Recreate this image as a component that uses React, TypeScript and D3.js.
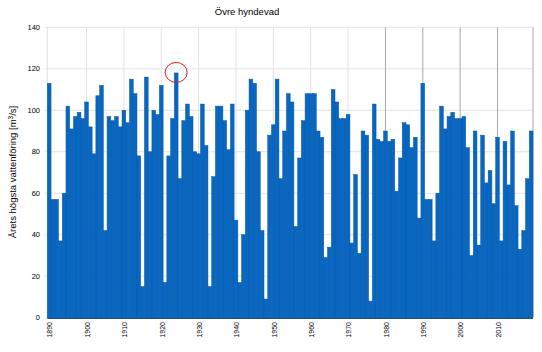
import React from "react";
import * as d3 from "d3";

// chart data: annual maximum flow, Övre hyndevad
const firstYear = 1890;
const flowValues = [
  113, 57, 57, 37, 60, 102, 91, 97, 99, 96,
  104, 92, 79, 107, 112, 42, 97, 95, 97, 92,
  100, 94, 115, 108, 78, 15, 116, 80, 100, 98,
  112, 17, 78, 96, 118, 67, 95, 103, 97, 80,
  79, 103, 83, 15, 68, 102, 102, 95, 81, 103,
  47, 17, 40, 100, 115, 113, 80, 42, 9, 88,
  93, 115, 67, 90, 108, 104, 44, 77, 95, 108,
  108, 108, 90, 87, 29, 34, 110, 104, 96, 96,
  98, 36, 69, 31, 90, 88, 8, 103, 86, 85,
  90, 85, 86, 61, 77, 94, 93, 82, 87, 48,
  113, 57, 57, 37, 60, 102, 91, 97, 99, 96,
  96, 97, 82, 30, 90, 35, 88, 65, 71, 55,
  87, 37, 85, 64, 90, 54, 33, 42, 67, 90,
];
const years = flowValues.map((_, i) => firstYear + i);
const yTicks = [0, 20, 40, 60, 80, 100, 120, 140];
const decadeLabels = [1890, 1900, 1910, 1920, 1930, 1940, 1950, 1960, 1970, 1980, 1990, 2000, 2010];
const highlightYear = 1924;

const W = 542;
const H = 352;
const LEFT = 47.3;
const RIGHT = 533;
const TOP = 27.3;
const BOTTOM = 317.7;
const FONT = "'Liberation Sans', Arial, sans-serif";

export default function App() {
  const x = d3.scaleBand<number>().domain(years).range([LEFT, RIGHT]).padding(0);
  const y = d3.scaleLinear().domain([0, 140]).range([BOTTOM, TOP]);
  const bw = x.bandwidth();

  const hx = (x(highlightYear) ?? 0) + bw / 2;
  const hVal = flowValues[highlightYear - firstYear];

  return (
    <svg
      width={W}
      height={H}
      style={{ position: "absolute", left: 0, top: 0, background: "#fff" }}
      fontFamily={FONT}
    >
      {/* title */}
      <text x={247} y={15} fontSize={9.5} textAnchor="middle" fill="#000">
        Övre hyndevad
      </text>

      {/* horizontal grid */}
      {yTicks.map((t) => (
        <g key={"h" + t}>
          <line x1={LEFT - 2} x2={RIGHT} y1={y(t)} y2={y(t)} stroke="#e2e2e2" strokeWidth={1} />
          <text x={40} y={y(t) + 2.5} fontSize={7.5} textAnchor="end" fill="#000">
            {t}
          </text>
        </g>
      ))}

      {/* vertical grid */}
      {decadeLabels.concat([2020]).map((d) => {
        const cx = d <= 2019 ? (x(d) ?? 0) + bw / 2 : RIGHT;
        return (
          <line
            key={"v" + d}
            x1={d === 1890 ? LEFT : cx}
            x2={d === 1890 ? LEFT : cx}
            y1={TOP}
            y2={BOTTOM}
            stroke={d >= 1980 ? "#a8a8a8" : "#e2e2e2"}
            strokeWidth={1}
          />
        );
      })}

      {/* bars */}
      {flowValues.map((v, i) => (
        <rect
          key={years[i]}
          x={x(years[i])}
          y={y(v)}
          width={bw}
          height={BOTTOM - y(v)}
          fill="#0767c1"
          stroke="#0a56a8"
          strokeWidth={0.5}
        />
      ))}

      {/* baseline */}
      <line x1={LEFT} x2={RIGHT} y1={BOTTOM + 0.6} y2={BOTTOM + 0.6} stroke="#1a4d92" strokeWidth={1.6} />

      {/* x tick labels */}
      {decadeLabels.map((d) => {
        const cx = (x(d) ?? 0) + bw / 2 + 0.8;
        return (
          <text
            key={"xl" + d}
            transform={`translate(${cx},322) rotate(-90)`}
            fontSize={7}
            textAnchor="end"
            dy="0.35em"
            fill="#000"
          >
            {d}
          </text>
        );
      })}

      {/* y axis title */}
      <text
        transform={`translate(16,172) rotate(-90)`}
        fontSize={9.5}
        textAnchor="middle"
        fill="#000"
      >
        Årets högsta vattenföring [m
        <tspan dy={-3} fontSize={6.5}>3</tspan>
        <tspan dy={3}>/s]</tspan>
      </text>

      {/* highlight circle */}
      <ellipse cx={hx} cy={y(hVal) - 0.5} rx={11} ry={10} fill="none" stroke="#e02020" strokeWidth={1} />
    </svg>
  );
}
